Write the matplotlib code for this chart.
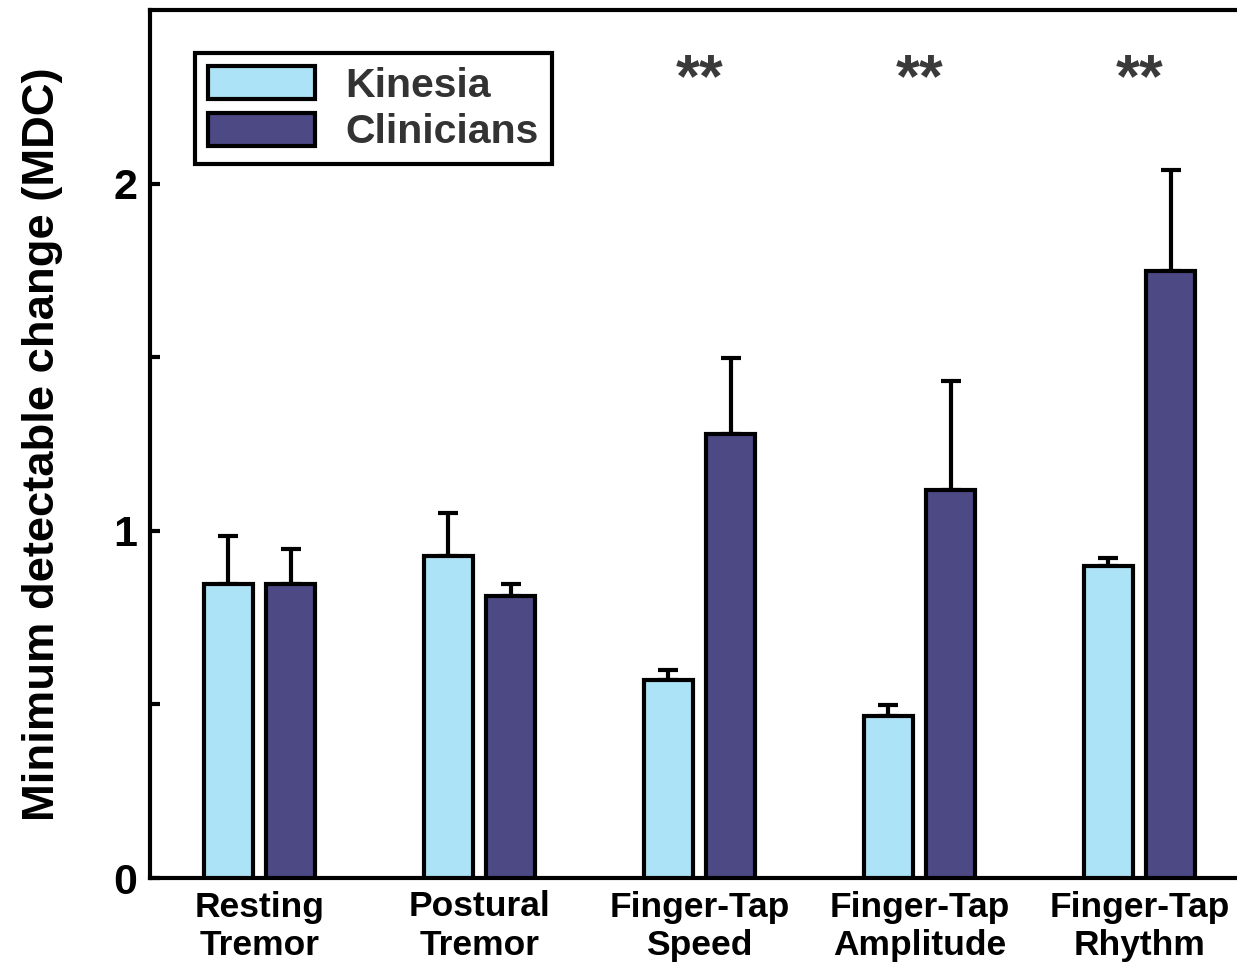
import numpy as np
import matplotlib
matplotlib.use('Agg')
import matplotlib.pyplot as plt

plt.rcParams['font.family'] = ['Liberation Sans', 'DejaVu Sans']
plt.rcParams['font.weight'] = 'bold'
plt.rcParams['axes.labelweight'] = 'bold'

# data
categories = ['Resting\nTremor', 'Postural\nTremor', 'Finger-Tap\nSpeed',
              'Finger-Tap\nAmplitude', 'Finger-Tap\nRhythm']
kinesia = [0.846, 0.928, 0.570, 0.467, 0.899]
kinesia_err = [0.140, 0.123, 0.028, 0.031, 0.022]
clinicians = [0.846, 0.811, 1.279, 1.117, 1.747]
clinicians_err = [0.103, 0.037, 0.219, 0.315, 0.292]
signif = ['', '', '**', '**', '**']

col_k = '#ADE3F6'
col_c = '#4C4985'

fig = plt.figure(figsize=(12.37, 9.66), dpi=100)
ax = fig.add_axes([150/1237, 88/966, 1 - 150/1237, 868/966])

x = np.arange(len(categories))
off = 0.142
w = 0.223

ax.bar(x - off, kinesia, w, color=col_k, edgecolor='black', linewidth=3, label='Kinesia', zorder=3)
ax.bar(x + off, clinicians, w, color=col_c, edgecolor='black', linewidth=3, label='Clinicians', zorder=3)
ax.errorbar(x - off, kinesia, yerr=[np.zeros(len(x)), kinesia_err], fmt='none',
            ecolor='black', elinewidth=3, capsize=7.2, capthick=3, zorder=2)
ax.errorbar(x + off, clinicians, yerr=[np.zeros(len(x)), clinicians_err], fmt='none',
            ecolor='black', elinewidth=3, capsize=7.2, capthick=3, zorder=2)

for i, s in enumerate(signif):
    if s:
        ax.text(x[i], 2.295, s, ha='center', va='center', fontsize=44,
                color='#3a3a3a', fontweight='bold')

ax.set_xlim((150 - 259.6) / 220, (1237 - 259.6) / 220)
ax.set_ylim(0, 2.5)
ax.set_xticks(x)
ax.set_xticklabels(categories, fontsize=25.5, linespacing=1.2)
ax.set_yticks([0, 0.5, 1, 1.5, 2])
ax.set_yticklabels(['0', '', '1', '', '2'], fontsize=31)
ax.tick_params(axis='y', direction='in', length=7, width=3, pad=9)
ax.tick_params(axis='x', length=0, pad=9)
ax.set_ylabel('Minimum detectable change (MDC)', fontsize=32.7, labelpad=36)

for side in ['left', 'bottom', 'top']:
    ax.spines[side].set_linewidth(3)
ax.spines['right'].set_visible(False)

leg = ax.legend(loc='upper left', bbox_to_anchor=(195/1237, 1 - 53/966),
                bbox_transform=fig.transFigure, borderaxespad=0, fontsize=29.5,
                handlelength=2.6, handleheight=0.85, labelspacing=0.2,
                handletextpad=0.75, borderpad=0.32, fancybox=False,
                edgecolor='black', framealpha=1)
leg.get_frame().set_linewidth(3)
for t in leg.get_texts():
    t.set_color('#333333')

fig.savefig('out.png', dpi=100)
